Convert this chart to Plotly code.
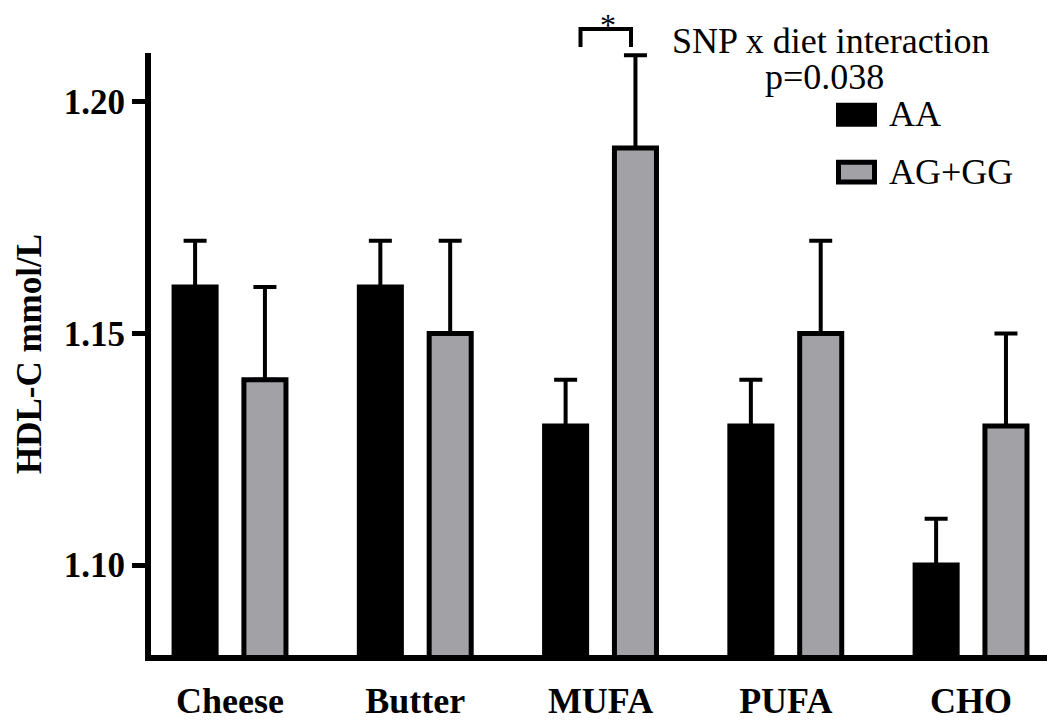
import plotly.graph_objects as go

# HDL-C by diet period and genotype
diets = ["Cheese", "Butter", "MUFA", "PUFA", "CHO"]
aa_mean = [1.16, 1.16, 1.13, 1.13, 1.10]
aa_err = [0.01, 0.01, 0.01, 0.01, 0.01]
ag_mean = [1.14, 1.15, 1.19, 1.15, 1.13]
ag_err = [0.02, 0.02, 0.02, 0.02, 0.02]
y_ticks = [1.10, 1.15, 1.20]

W, H = 1047, 721
ML, MR, MT, MB = 151, 0, 53, 64
PW, PH = W - ML - MR, H - MT - MB

SERIF = "Liberation Serif, Times New Roman, serif"
GREY = "#a2a1a6"


def px_x(px):
    return (px - ML) / PW


def px_y(py):
    return (H - MB - py) / PH


fig = go.Figure()
fig.add_trace(go.Bar(
    name="AA", x=diets, y=aa_mean,
    marker=dict(color="black", line=dict(color="black", width=5)),
    error_y=dict(type="data", array=aa_err, arrayminus=[0] * len(aa_err),
                 symmetric=False, color="black", thickness=4, width=11.5),
))
fig.add_trace(go.Bar(
    name="AG+GG", x=diets, y=ag_mean,
    marker=dict(color=GREY, line=dict(color="black", width=5)),
    error_y=dict(type="data", array=ag_err, arrayminus=[0] * len(ag_err),
                 symmetric=False, color="black", thickness=4, width=11.5),
))

shapes = []
annotations = []

# significance bracket over MUFA
bx0, bx1, btop, bbot = 580.5, 631, 29, 47
shapes.append(dict(
    type="path", xref="paper", yref="paper",
    path=(f"M {px_x(bx0)} {px_y(bbot)} L {px_x(bx0)} {px_y(btop)} "
          f"L {px_x(bx1)} {px_y(btop)} L {px_x(bx1)} {px_y(bbot)}"),
    line=dict(color="black", width=4),
))
annotations.append(dict(
    text="*", xref="paper", yref="paper", x=px_x(608), y=px_y(25),
    xanchor="center", yanchor="middle", showarrow=False,
    font=dict(family=SERIF, size=32, color="black"),
))

# interaction note
note_font = dict(family=SERIF, size=36, color="black")
annotations.append(dict(
    text="SNP x diet interaction", xref="paper", yref="paper",
    x=px_x(831), y=px_y(41), xanchor="center", yanchor="middle",
    showarrow=False, font=note_font,
))
annotations.append(dict(
    text="p=0.038", xref="paper", yref="paper",
    x=px_x(824), y=px_y(77), xanchor="center", yanchor="middle",
    showarrow=False, font=note_font,
))

# legend
shapes.append(dict(type="rect", xref="paper", yref="paper",
                   x0=px_x(836), x1=px_x(877), y0=px_y(127), y1=px_y(103),
                   fillcolor="black", line=dict(width=0)))
shapes.append(dict(type="rect", xref="paper", yref="paper",
                   x0=px_x(838.5), x1=px_x(874.5), y0=px_y(182.5), y1=px_y(162.5),
                   fillcolor=GREY, line=dict(color="black", width=5)))
annotations.append(dict(
    text="AA", xref="paper", yref="paper", x=px_x(887), y=px_y(114),
    xanchor="left", yanchor="middle", showarrow=False,
    font=note_font,
))
annotations.append(dict(
    text="AG+GG", xref="paper", yref="paper", x=px_x(887), y=px_y(172),
    xanchor="left", yanchor="middle", showarrow=False,
    font=note_font,
))

fig.update_layout(
    width=W, height=H,
    margin=dict(l=ML, r=MR, t=MT, b=MB, pad=0),
    paper_bgcolor="white", plot_bgcolor="white",
    barmode="group", bargap=0.246, bargroupgap=0.398,
    showlegend=False,
    shapes=shapes, annotations=annotations,
    font=dict(family=SERIF, color="black"),
)
fig.update_xaxes(
    range=[-0.4265, 4.410],
    showline=True, linewidth=6, linecolor="black",
    ticks="", showgrid=False, zeroline=False, ticklabelstandoff=9,
    tickfont=dict(family=SERIF, size=36, color="black", weight="bold"),
)
fig.update_yaxes(
    range=[1.0806, 1.2105],
    tickvals=y_ticks, ticktext=[f"{v:.2f}" for v in y_ticks],
    showline=True, linewidth=6, linecolor="black",
    ticks="outside", ticklen=13, tickwidth=5, tickcolor="black",
    showgrid=False, zeroline=False,
    tickfont=dict(family=SERIF, size=35, color="black", weight="bold"),
    title=dict(text="HDL-C mmol/L", standoff=14,
               font=dict(family=SERIF, size=35, color="black", weight="bold")),
)

fig.write_html("out.html")
